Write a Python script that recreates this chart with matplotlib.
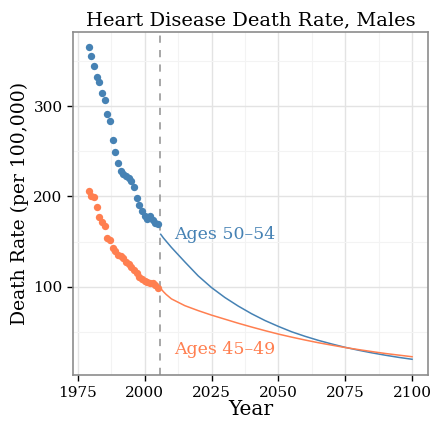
import numpy as np
import matplotlib
matplotlib.use("Agg")
import matplotlib.pyplot as plt
from matplotlib.ticker import MultipleLocator

# observed rates (per 100,000), one point per year
anios = list(range(1979, 2006))
edad_50_54 = [365, 356, 344, 332, 327, 314, 307, 291, 283, 262, 249, 237, 228, 225,
              223, 220, 217, 210, 198, 191, 184, 178, 175, 178, 174, 170, 169]
edad_45_49 = [206, 200, 199, 188, 177, 172, 167, 154, 152, 143, 139, 135, 134, 132,
              127, 125, 122, 119, 115, 111, 108, 106, 105, 104, 104, 102, 99]

# projection
anios_proy = [2006, 2007, 2008, 2010, 2015, 2020, 2025, 2030, 2035, 2040, 2045, 2050,
              2055, 2060, 2065, 2070, 2075, 2080, 2085, 2090, 2095, 2100]
proy_50_54 = [158, 154, 150.5, 143.5, 127.5, 112, 99, 88, 78.5, 70, 62.5, 56,
              50, 45, 40.5, 36.5, 32.8, 29.6, 26.7, 24.1, 21.7, 19.6]
proy_45_49 = [98, 94.5, 91.5, 86.5, 79, 73.5, 68.5, 64, 59.5, 55.3, 51.3, 47.5,
              44.1, 40.9, 37.9, 35.2, 32.6, 30.3, 28.1, 26.0, 24.2, 22.4]

corte = 2005.6  # dashed line between data and projection

azul = "steelblue"
naranja = "coral"

plt.rcParams['font.family'] = ['DejaVu Serif']

fig = plt.figure(figsize=(4.32, 4.22), dpi=100)
ax = fig.add_axes([0.169, 0.111, 0.822, 0.813])

# grid like ggplot theme_bw
ax.xaxis.set_major_locator(MultipleLocator(25))
ax.xaxis.set_minor_locator(MultipleLocator(12.5))
ax.yaxis.set_major_locator(MultipleLocator(100))
ax.yaxis.set_minor_locator(MultipleLocator(50))
ax.grid(True, which="major", color="#e3e3e3", linewidth=1.0)
ax.grid(True, which="minor", color="#f3f3f3", linewidth=0.8)
ax.set_axisbelow(True)

ax.scatter(anios, edad_50_54, s=28, color=azul, zorder=3, linewidths=0)
ax.scatter(anios, edad_45_49, s=28, color=naranja, zorder=3, linewidths=0)
ax.plot(anios_proy, proy_50_54, color=azul, linewidth=1.1, zorder=3)
ax.plot(anios_proy, proy_45_49, color=naranja, linewidth=1.1, zorder=3)

ax.axvline(corte, color="#a0a0a0", linestyle=(0, (4, 4)), linewidth=1.3, zorder=2)

ax.text(2011, 158, "Ages 50\u201354", color=azul, fontsize=12.5, va="center", ha="left")
ax.text(2011, 30, "Ages 45\u201349", color=naranja, fontsize=12.5, va="center", ha="left")

ax.set_xlim(1973.2, 2106)
ax.set_ylim(2, 382)
ax.set_yticks([100, 200, 300])
ax.set_xticks([1975, 2000, 2025, 2050, 2075, 2100])

for lado in ax.spines.values():
    lado.set_color("#8c8c8c")
    lado.set_linewidth(1.2)
ax.tick_params(which="major", direction="out", length=4, width=1, color="black",
               labelsize=11, labelcolor="black")
ax.tick_params(which="minor", length=0)

ax.set_title("Heart Disease Death Rate, Males", fontsize=14, pad=5)
ax.set_xlabel("Year", fontsize=14.5, labelpad=0)
ax.set_ylabel("Death Rate (per 100,000)", fontsize=13.5, labelpad=3)

plt.savefig("out.png", dpi=100)
